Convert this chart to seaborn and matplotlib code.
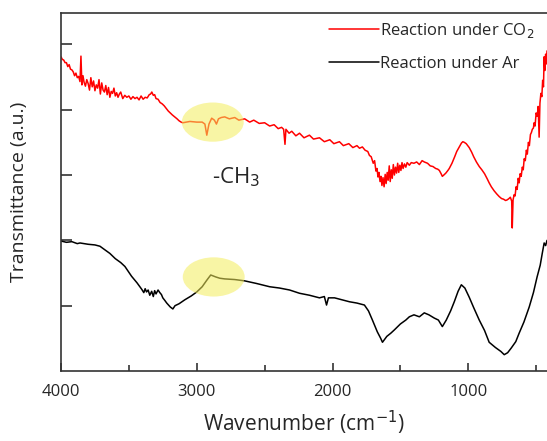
import numpy as np
import pandas as pd
import matplotlib
matplotlib.use("Agg")
import matplotlib.pyplot as plt
from matplotlib.patches import Ellipse
import seaborn as sns

# FTIR spectra (wavenumber in cm-1, transmittance in a.u.)
wn_co2 = [4000, 3990, 3980, 3970, 3960, 3950, 3940, 3930, 3920, 3910, 3900, 3890, 3880, 3870,
          3860, 3853, 3846, 3838, 3830, 3820, 3810, 3800, 3790, 3780, 3770, 3760, 3750, 3740,
          3730, 3720, 3710, 3700, 3690, 3680, 3670, 3660, 3650, 3640, 3630, 3620, 3610, 3600,
          3590, 3580, 3570, 3560, 3545, 3530, 3515, 3500, 3485, 3470, 3455, 3440, 3425, 3410,
          3395, 3380, 3365, 3350, 3340, 3331, 3320, 3310, 3300, 3285, 3270, 3255, 3240, 3225,
          3210, 3195, 3180, 3162, 3145, 3130, 3115, 3103, 3050, 3000, 2960, 2940, 2926, 2910,
          2890, 2870, 2855, 2840, 2820, 2794, 2760, 2720, 2690, 2647, 2610, 2580, 2540, 2500,
          2463, 2430, 2400, 2375, 2360, 2350, 2343, 2320, 2300, 2270, 2243, 2210, 2170, 2140,
          2096, 2060, 2020, 1990, 1949, 1920, 1880, 1850, 1820, 1801, 1780, 1760, 1740, 1728,
          1715, 1700, 1690, 1680, 1672, 1665, 1658, 1650, 1643, 1636, 1628, 1620, 1612, 1605,
          1597, 1590, 1582, 1575, 1567, 1560, 1552, 1544, 1536, 1528, 1520, 1512, 1504, 1496,
          1488, 1480, 1470, 1460, 1450, 1434, 1420, 1400, 1380, 1360, 1340, 1324, 1300, 1280,
          1260, 1240, 1225, 1213, 1200, 1191, 1180, 1165, 1150, 1140, 1120, 1100, 1085, 1066,
          1050, 1040, 1029, 1015, 993, 975, 960, 940, 919, 900, 880, 860, 846, 830, 810, 790,
          772, 755, 740, 725, 713, 700, 690, 680, 676, 670, 662, 655, 648, 640, 632, 625, 618,
          610, 602, 595, 588, 580, 572, 565, 557, 550, 542, 535, 528, 520, 515, 508, 500, 492,
          485, 478, 472, 465, 458, 452, 446, 441, 436, 430, 425, 420]
t_co2 = [4.81, 4.77, 4.76, 4.72, 4.72, 4.66, 4.69, 4.62, 4.61, 4.58, 4.52, 4.56, 4.49, 4.51,
         4.43, 4.82, 4.38, 4.52, 4.42, 4.36, 4.46, 4.40, 4.30, 4.49, 4.35, 4.44, 4.29, 4.38,
         4.33, 4.46, 4.24, 4.41, 4.30, 4.27, 4.37, 4.23, 4.34, 4.19, 4.28, 4.25, 4.33, 4.21,
         4.26, 4.19, 4.24, 4.27, 4.17, 4.22, 4.19, 4.21, 4.16, 4.20, 4.17, 4.19, 4.15, 4.21,
         4.16, 4.19, 4.18, 4.23, 4.24, 4.27, 4.22, 4.23, 4.17, 4.16, 4.11, 4.09, 4.06, 4.02,
         3.98, 3.95, 3.92, 3.89, 3.86, 3.83, 3.81, 3.80, 3.82, 3.81, 3.81, 3.78, 3.61, 3.78,
         3.87, 3.84, 3.78, 3.86, 3.88, 3.89, 3.86, 3.88, 3.84, 3.86, 3.81, 3.84, 3.79, 3.80,
         3.75, 3.77, 3.71, 3.73, 3.70, 3.47, 3.70, 3.64, 3.67, 3.60, 3.64, 3.57, 3.61, 3.55,
         3.57, 3.51, 3.54, 3.48, 3.51, 3.45, 3.48, 3.42, 3.45, 3.41, 3.43, 3.38, 3.36, 3.30,
         3.28, 3.18, 3.22, 3.06, 3.10, 2.97, 3.04, 2.90, 2.98, 2.84, 2.96, 2.82, 3.01, 2.87,
         3.04, 2.92, 3.14, 2.90, 3.08, 2.95, 3.16, 3.00, 3.12, 3.03, 3.18, 3.04, 3.15, 3.07,
         3.19, 3.10, 3.17, 3.12, 3.19, 3.15, 3.19, 3.18, 3.20, 3.16, 3.22, 3.20, 3.18, 3.14,
         3.13, 3.10, 3.09, 3.07, 3.02, 2.98, 3.00, 3.03, 3.07, 3.10, 3.18, 3.28, 3.36, 3.43,
         3.49, 3.51, 3.50, 3.48, 3.42, 3.35, 3.28, 3.20, 3.13, 3.08, 3.02, 2.94, 2.88, 2.82, 2.76, 2.71,
         2.67, 2.64, 2.63, 2.61, 2.62, 2.64, 2.66, 2.60, 2.19, 2.62, 2.70, 2.68, 2.82, 2.78, 2.95, 2.88, 3.02,
         2.98, 3.12, 3.08, 3.25, 3.22, 3.38, 3.32, 3.50, 3.45, 3.62, 3.65, 3.70, 3.72, 3.80, 3.75, 3.95, 3.90,
         4.05, 3.58, 4.10, 4.25, 4.20, 4.45, 4.35, 4.81, 4.60, 4.85, 4.70, 4.90]

wn_ar = [4000, 3960, 3920, 3880, 3860, 3800, 3750, 3713, 3680, 3640, 3600, 3560, 3529, 3480,
         3440, 3419, 3405, 3390, 3380, 3370, 3358, 3346, 3332, 3320, 3310, 3300, 3285, 3272,
         3260, 3250, 3235, 3221, 3195, 3176, 3160, 3130, 3088, 3040, 3000, 2960, 2926, 2897,
         2860, 2830, 2794, 2720, 2647, 2560, 2463, 2390, 2316, 2243, 2170, 2096, 2060, 2044,
         2030, 1985, 1930, 1875, 1820, 1765, 1735, 1706, 1670, 1645, 1632, 1600, 1570, 1544,
         1500, 1460, 1434, 1400, 1360, 1324, 1290, 1250, 1220, 1191, 1162, 1130, 1103, 1075,
         1051, 1025, 993, 960, 919, 880, 846, 800, 760, 735, 710, 684, 650, 625, 590, 551, 520,
         493, 470, 455, 441, 430, 420]
t_ar = [1.99, 1.97, 1.98, 1.95, 1.96, 1.94, 1.93, 1.91, 1.86, 1.80, 1.72, 1.66, 1.60, 1.45,
        1.35, 1.29, 1.25, 1.20, 1.26, 1.21, 1.24, 1.16, 1.22, 1.14, 1.23, 1.18, 1.24, 1.20,
        1.17, 1.12, 1.08, 1.04, 0.98, 0.95, 1.00, 1.03, 1.09, 1.15, 1.21, 1.29, 1.39, 1.47,
        1.44, 1.42, 1.41, 1.40, 1.38, 1.34, 1.29, 1.27, 1.24, 1.19, 1.16, 1.12, 1.14, 1.01,
        1.12, 1.12, 1.09, 1.06, 1.04, 1.01, 0.92, 0.78, 0.60, 0.50, 0.44, 0.53, 0.58, 0.63,
        0.72, 0.78, 0.83, 0.86, 0.83, 0.89, 0.86, 0.81, 0.78, 0.68, 0.78, 0.92, 1.06, 1.22,
        1.32, 1.27, 1.13, 0.97, 0.78, 0.62, 0.44, 0.36, 0.30, 0.25, 0.28, 0.35, 0.45, 0.58,
        0.75, 0.98, 1.20, 1.44, 1.62, 1.80, 1.96, 1.92, 2.00]

labels = ["Reaction under CO$_2$", "Reaction under Ar"]
colors = ["#ff0000", "#000000"]

# highlighted -CH3 regions (centre wavenumber, centre transmittance)
highlight_x = [2882, 2875]
highlight_y = [3.81, 1.44]

df = pd.concat([
    pd.DataFrame({"wn": wn_co2, "t": t_co2, "series": labels[0]}),
    pd.DataFrame({"wn": wn_ar, "t": t_ar, "series": labels[1]}),
])

sns.set_style("ticks")
plt.rcParams['font.family'] = ['Open Sans', 'DejaVu Sans']

fig = plt.figure(figsize=(5.47, 4.41), dpi=100)
ax = fig.add_axes([0.1115, 0.1587, 0.8885, 0.8118])

sns.lineplot(data=df, x="wn", y="t", hue="series", palette=colors, sort=False,
             estimator=None, linewidth=1.1, ax=ax)

for cx, cy in zip(highlight_x, highlight_y):
    ax.add_patch(Ellipse((cx, cy), width=456, height=0.6, facecolor="#f4ed5b",
                         alpha=0.55, edgecolor="none", zorder=5))

ax.text(2890, 2.97, "-CH$_3$", fontsize=16, ha="left", va="center")

ax.set_xlim(4000, 420)
ax.set_ylim(0, 5.48)
ax.set_xticks([4000, 3000, 2000, 1000])
ax.set_xticks([3500, 2500, 1500, 500], minor=True)
ax.set_yticks([1, 2, 3, 4, 5])
ax.set_yticklabels([])
ax.tick_params(axis="both", which="both", direction="in", width=1.2, color="#333333")
ax.tick_params(axis="x", which="major", length=6, labelsize=12, pad=9)
ax.tick_params(axis="x", which="minor", length=4)
ax.tick_params(axis="y", length=8)
for s in ["left", "bottom", "top"]:
    ax.spines[s].set_linewidth(1.2)
    ax.spines[s].set_color("#333333")
ax.spines["right"].set_visible(False)

ax.set_xlabel("Wavenumber (cm$^{-1}$)", fontsize=15, labelpad=7)
ax.set_ylabel("Transmittance (a.u.)", fontsize=14, labelpad=20)

ax.legend(loc="upper left", bbox_to_anchor=(0.52, 1.02), frameon=False, fontsize=12,
          handlelength=3.0, handletextpad=0.1, labelspacing=0.95)

fig.savefig("out.png", dpi=100)
